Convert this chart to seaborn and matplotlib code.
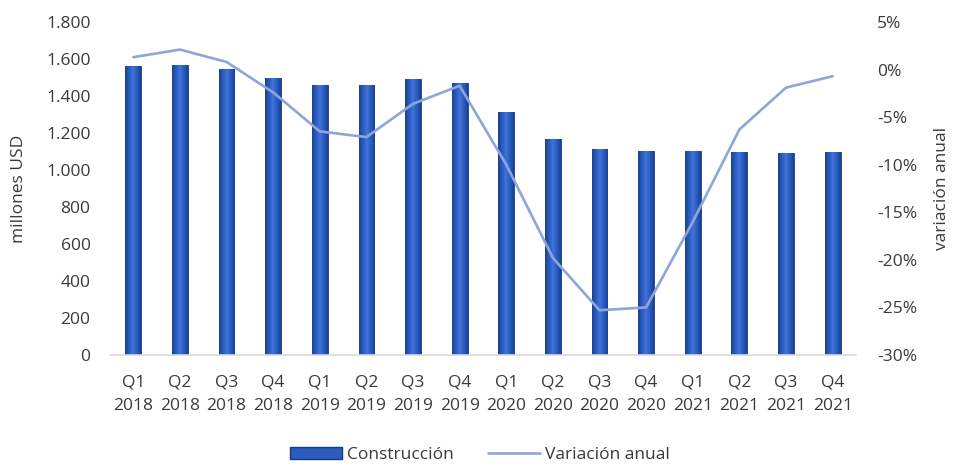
import numpy as np
import pandas as pd
import matplotlib
matplotlib.use("Agg")
import matplotlib.pyplot as plt
from matplotlib.ticker import FuncFormatter, MultipleLocator
from matplotlib.lines import Line2D
from matplotlib.patches import Patch
from matplotlib.colors import LinearSegmentedColormap
import seaborn as sns

quarters = ["Q1", "Q2", "Q3", "Q4"] * 4
years = ["2018"] * 4 + ["2019"] * 4 + ["2020"] * 4 + ["2021"] * 4
construccion = [1562, 1568, 1546, 1497, 1459, 1459, 1492, 1470,
                1314, 1168, 1114, 1103, 1103, 1097, 1092, 1097]
variacion = [1.3, 2.1, 0.8, -2.4, -6.5, -7.1, -3.6, -1.7,
             -10.0, -19.8, -25.3, -25.0, -16.0, -6.3, -1.9, -0.7]

labels = [f"{q}\n{y}" for q, y in zip(quarters, years)]
df = pd.DataFrame({"label": labels, "construccion": construccion,
                   "variacion": variacion, "pos": np.arange(len(labels))})

sns.set_style("white")
plt.rcParams["font.family"] = ["Open Sans", "DejaVu Sans"]
text_color = "#3A3A3A"
fs = 12.5

fig = plt.figure(figsize=(9.6, 4.68), dpi=100)
ax = fig.add_axes([0.1146, 0.2415, 0.777, 0.7115])

bar_color = "#2A5BBE"
bar_edge = "#173C86"
line_color = "#8EA5DA"
sns.barplot(data=df, x="label", y="construccion", ax=ax, color=bar_color,
            width=0.34, saturation=1, edgecolor=bar_edge, linewidth=0.6)

# horizontal gradient on each bar (dark edges, brighter centre)
grad_cmap = LinearSegmentedColormap.from_list(
    "bevel", ["#1A418F", "#2A5CC0", "#3F74DA", "#2A5CC0", "#1A418F"])
grad = np.linspace(0, 1, 64).reshape(1, -1)
for p in list(ax.patches):
    x0, y0 = p.get_x(), p.get_y()
    w, h = p.get_width(), p.get_height()
    im = ax.imshow(grad, cmap=grad_cmap, aspect="auto",
                   extent=(x0, x0 + w, y0, y0 + h), zorder=p.get_zorder() + 0.1)
    im.set_clip_path(p)

ax.set_xlim(-0.5, len(labels) - 0.5)
ax.set_ylim(0, 1800)
ax.yaxis.set_major_locator(MultipleLocator(200))
ax.yaxis.set_major_formatter(FuncFormatter(lambda v, p: f"{int(v):,}".replace(",", ".")))
ax.set_xlabel("")
ax.set_ylabel("millones USD", fontsize=fs, color=text_color, labelpad=14)
ax.tick_params(axis="y", labelsize=fs, colors=text_color, length=0, pad=14)
ax.tick_params(axis="x", labelsize=fs, colors=text_color, length=0, pad=14)
for lab in ax.get_xticklabels():
    lab.set_linespacing(1.65)
for s in ["top", "right", "left"]:
    ax.spines[s].set_visible(False)
ax.spines["bottom"].set_color("#D9D9D9")
ax.spines["bottom"].set_linewidth(1.2)

ax2 = ax.twinx()
sns.lineplot(data=df, x="pos", y="variacion", ax=ax2, color=line_color, linewidth=1.9)
ax2.set_ylim(-30, 5)
ax2.yaxis.set_major_locator(MultipleLocator(5))
ax2.yaxis.set_major_formatter(FuncFormatter(lambda v, p: f"{v:.0f}%"))
ax2.set_ylabel("variación anual", fontsize=fs, color=text_color, labelpad=12)
ax2.tick_params(axis="y", labelsize=fs, colors=text_color, length=0, pad=15)
for s in ["top", "right", "left", "bottom"]:
    ax2.spines[s].set_visible(False)
ax2.set_xlim(-0.5, len(labels) - 0.5)
ax2.set_xlabel("")

handles = [Patch(facecolor=bar_color, edgecolor=bar_edge),
           Line2D([0], [0], color=line_color, linewidth=1.9)]
fig.legend(handles, ["Construcción", "Variación anual"], loc="lower center",
           bbox_to_anchor=(0.5, -0.022), ncol=2, frameon=False, fontsize=fs,
           labelcolor=text_color, handlelength=3.0, handletextpad=0.25,
           columnspacing=2.0)

fig.savefig("out.png", dpi=100)
